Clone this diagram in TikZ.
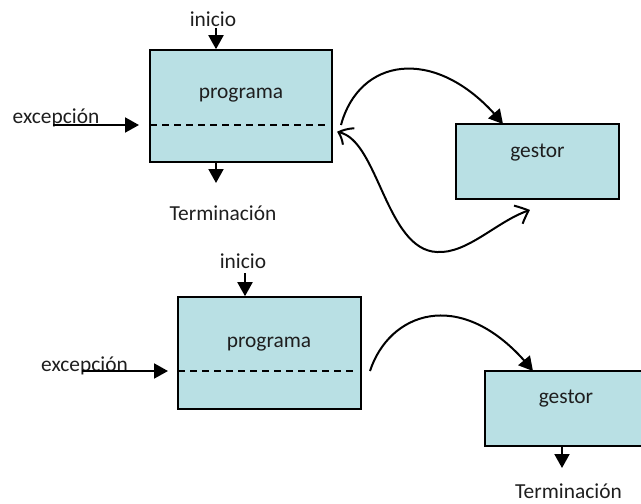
\documentclass[tikz,border=0pt]{standalone}
\usepackage{fontspec}
\setmainfont{Carlito}
\usetikzlibrary{arrows.meta,bending}
\definecolor{boxfill}{RGB}{185,224,228}
\definecolor{ink}{RGB}{30,30,30}
\begin{document}
\begin{tikzpicture}[x=1pt,y=-1pt,
  box/.style={draw=black,line width=1.6pt,fill=boxfill,inner sep=0pt},
  txt/.style={font=\fontsize{21.4}{25}\selectfont,text=ink,inner sep=0pt,anchor=base},
  arr/.style={line width=2pt,-{Triangle[length=14pt,width=15pt]}},
  barbs/.style={line width=2pt,{Straight Barb[length=11pt,width=20pt,bend]}-{Straight Barb[length=11pt,width=20pt,bend]}},
  dsh/.style={line width=1.8pt,dash pattern=on 7pt off 5pt}]
\useasboundingbox (0,0) rectangle (641,504);

% ---------- top diagram ----------
\node[box,minimum width=182pt,minimum height=112pt] (prog1) at (241,106) {};
\node[txt] (prog1t) at (241,98) {programa};
\coordinate (d1s) at (150,125);
\coordinate (d1e) at (327,125);
\draw[dsh] (d1s) -- (d1e);

\node[txt] (ini1) at (213,26) {inicio};
\coordinate (ini1a) at (216,28);
\draw[arr] (ini1a) -- (ini1a |- prog1.north);

\node[txt] (exc1) at (56,123) {excepción};
\coordinate (exc1a) at (53,125);
\coordinate (exc1b) at (139,125);
\draw[arr] (exc1a) -- (exc1b);

\coordinate (term1a) at (216,163);
\coordinate (term1b) at (216,183);
\draw[arr] (term1a) -- (term1b);
\node[txt] (term1) at (223,220) {Terminación};

\node[box,minimum width=163pt,minimum height=75pt] (ges1) at (537.5,161.5) {};
\node[txt] (ges1t) at (537.5,157) {gestor};

\coordinate (c1s) at (341,125);
\coordinate (c1e) at (503,124);
\draw[arr] (c1s) .. controls (360,55) and (440,45) .. (c1e);

\coordinate (c2s) at (337,132);
\coordinate (c2m) at (437,252);
\coordinate (c2e) at (530,210);
\draw[barbs] (c2s) .. controls (378,136) and (385,250) .. (c2m) .. controls (468,254) and (498,220) .. (c2e);

% ---------- bottom diagram ----------
\node[box,minimum width=183pt,minimum height=112pt] (prog2) at (269.5,353) {};
\node[txt] (prog2t) at (269,347) {programa};
\coordinate (d2s) at (178,371);
\coordinate (d2e) at (354,371);
\draw[dsh] (d2s) -- (d2e);

\node[txt] (ini2) at (243,268) {inicio};
\coordinate (ini2a) at (245,273);
\draw[arr] (ini2a) -- (ini2a |- prog2.north);

\node[txt] (exc2) at (84.5,371) {excepción};
\coordinate (exc2a) at (82,371);
\coordinate (exc2b) at (168,371);
\draw[arr] (exc2a) -- (exc2b);

\node[box,minimum width=162pt,minimum height=75pt] (ges2) at (566,408.5) {};
\node[txt] (ges2t) at (566,403) {gestor};

\coordinate (c3s) at (370,371);
\coordinate (c3e) at (533,371);
\draw[arr] (c3s) .. controls (390,310) and (465,285) .. (c3e);

\coordinate (term2a) at (562,446);
\coordinate (term2b) at (562,468);
\draw[arr] (term2a) -- (term2b);
\node[txt] (term2) at (568.5,498) {Terminación};
\end{tikzpicture}
\end{document}
